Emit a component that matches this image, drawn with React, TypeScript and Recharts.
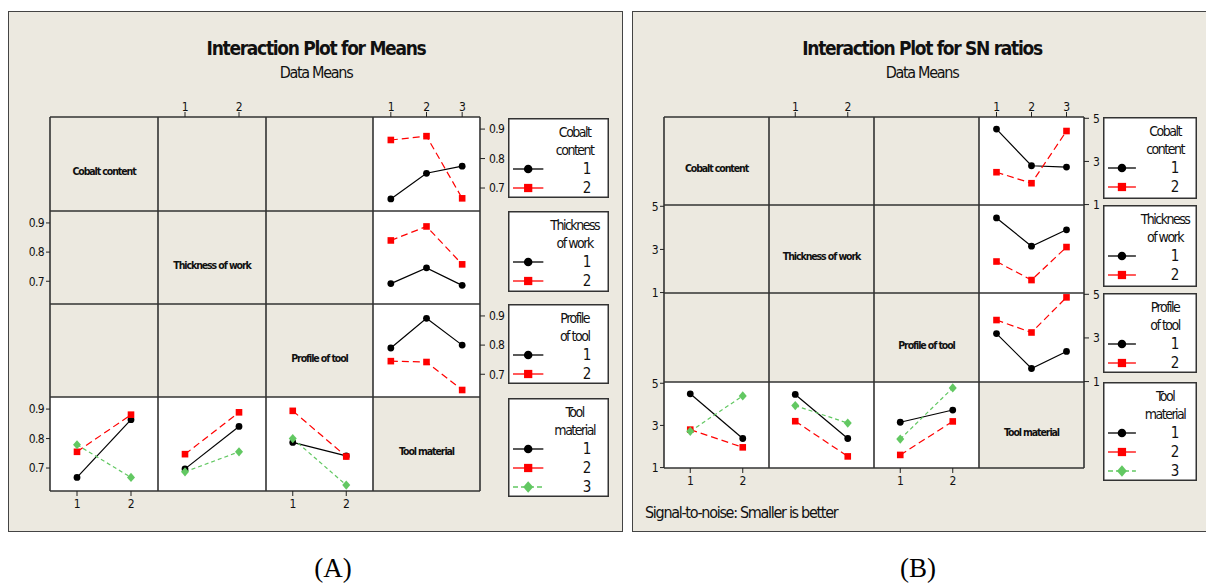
import React from 'react';
import { LineChart, Line, XAxis, YAxis } from 'recharts';

const FONT = '"Liberation Sans Narrow", "DejaVu Sans Condensed", "Liberation Sans", sans-serif';
const BEIGE = '#ece9e0';
const GRID = '#333';
const RED = '#ff0000';
const GREEN = '#62c862';

// factors and levels
const FACTOR_NAMES = ['Cobalt content', 'Thickness of work', 'Profile of tool', 'Tool material'];
const LEGEND_TITLES = [['Cobalt', 'content'], ['Thickness', 'of work'], ['Profile', 'of tool'], ['Tool', 'material']];
const TWO_LEVELS = [1, 2];
const THREE_LEVELS = [1, 2, 3];

// (A) means, right column: x = tool material 1..3, one line per level of the row factor
const meansCobalt1 = [0.663, 0.750, 0.774];
const meansCobalt2 = [0.863, 0.876, 0.665];
const meansThick1 = [0.692, 0.746, 0.686];
const meansThick2 = [0.840, 0.888, 0.758];
const meansProfile1 = [0.790, 0.892, 0.800];
const meansProfile2 = [0.745, 0.742, 0.646];
// (A) means, bottom row: x = column factor 1..2, one line per tool material
const meansTm1ByCobalt = [0.668, 0.864];
const meansTm2ByCobalt = [0.755, 0.881];
const meansTm3ByCobalt = [0.779, 0.668];
const meansTm1ByThick = [0.697, 0.841];
const meansTm2ByThick = [0.747, 0.889];
const meansTm3ByThick = [0.687, 0.755];
const meansTm1ByProfile = [0.787, 0.741];
const meansTm2ByProfile = [0.894, 0.739];
const meansTm3ByProfile = [0.800, 0.642];
const MEANS_TICKS = [0.7, 0.8, 0.9];

// (B) SN ratios
const snCobalt1 = [4.50, 2.80, 2.74];
const snCobalt2 = [2.50, 1.99, 4.41];
const snThick1 = [4.46, 3.15, 3.91];
const snThick2 = [2.44, 1.58, 3.11];
const snProfile1 = [3.20, 1.60, 2.38];
const snProfile2 = [3.82, 3.25, 4.86];
const snTm1ByCobalt = [4.50, 2.38];
const snTm2ByCobalt = [2.80, 1.96];
const snTm3ByCobalt = [2.72, 4.40];
const snTm1ByThick = [4.47, 2.38];
const snTm2ByThick = [3.20, 1.53];
const snTm3ByThick = [3.94, 3.11];
const snTm1ByProfile = [3.15, 3.73];
const snTm2ByProfile = [1.60, 3.19];
const snTm3ByProfile = [2.35, 4.78];
const SN_TICKS = [1, 3, 5];

const STYLES = [
  { color: '#000', dash: undefined },
  { color: RED, dash: '7 4' },
  { color: GREEN, dash: '4 3' },
];

const marker = (kind: number, color: string, cx: number, cy: number, key?: string, s = 1) => {
  if (kind === 0) return <circle key={key} cx={cx} cy={cy} r={3.4 * s} fill={color} />;
  if (kind === 1) return <rect key={key} x={cx - 3.3 * s} y={cy - 3.3 * s} width={6.6 * s} height={6.6 * s} fill={color} />;
  return <path key={key} d={`M${cx},${cy - 4.6 * s}L${cx + 4 * s},${cy}L${cx},${cy + 4.6 * s}L${cx - 4 * s},${cy}Z`} fill={color} />;
};

const PAD = 36;
const AX_W = 30;
const AX_H = 22;

function CellChart({ x0, y0, x1, y1, levels, series, yDomain, yTicks, top, bottom, left, right }: any) {
  const w = x1 - x0;
  const h = y1 - y0;
  const rows = levels.map((lv: number, i: number) => {
    const row: any = { x: lv };
    series.forEach((s: number[], k: number) => { row['s' + k] = s[i]; });
    return row;
  });
  const tick = { fill: '#111', fontSize: 12, letterSpacing: -0.6 };
  return (
    <div style={{ position: 'absolute', left: x0 - PAD, top: y0 - PAD }}>
      <LineChart
        width={w + 2 * PAD}
        height={h + 2 * PAD}
        data={rows}
        margin={{
          top: top ? PAD - AX_H : PAD,
          bottom: bottom ? PAD - AX_H : PAD,
          left: left ? PAD - AX_W : PAD,
          right: right ? PAD - AX_W : PAD,
        }}
      >
        <XAxis
          type="number"
          dataKey="x"
          domain={[0.5, levels.length + 0.5]}
          ticks={levels}
          interval={0}
          orientation={top ? 'top' : 'bottom'}
          hide={!top && !bottom}
          height={AX_H}
          axisLine={false}
          tickLine={{ stroke: '#222' }}
          tickSize={5}
          tickMargin={top ? 1 : 3}
          tick={tick}
        />
        <YAxis
          type="number"
          domain={yDomain}
          allowDataOverflow
          ticks={yTicks}
          interval={0}
          orientation={right ? 'right' : 'left'}
          hide={!left && !right}
          width={AX_W}
          axisLine={false}
          tickLine={{ stroke: '#222' }}
          tickSize={right ? 5 : 4}
          tickMargin={right ? 4 : 2}
          tick={tick}
        />
        {series.map((_: number[], k: number) => {
          const st = STYLES[k];
          return (
            <Line
              key={k}
              dataKey={'s' + k}
              stroke={st.color}
              strokeWidth={1.2}
              strokeDasharray={st.dash}
              isAnimationActive={false}
              dot={(p: any) => marker(k, st.color, p.cx, p.cy, 'd' + k + '-' + p.index)}
              activeDot={false}
            />
          );
        })}
      </LineChart>
    </div>
  );
}

function LegendBox({ x0, x1, y0, y1, title, levels }: any) {
  const w = x1 - x0;
  const h = y1 - y0;
  return (
    <svg style={{ position: 'absolute', left: x0, top: y0 }} width={w} height={h}>
      <rect x={0.75} y={0.75} width={w - 1.5} height={h - 1.5} fill="#fff" stroke={GRID} strokeWidth={1.5} />
      {title.map((t: string, i: number) => (
        <text key={t} x={w * 0.66} y={14 + i * 18} textAnchor="middle" dominantBaseline="central" fontSize={14} letterSpacing={-1.5} fill="#111">{t}</text>
      ))}
      {levels.map((lv: number, i: number) => {
        const y = 51 + i * 19;
        const st = STYLES[i];
        return (
          <g key={lv}>
            <line x1={5} x2={w * 0.35} y1={y} y2={y} stroke={st.color} strokeWidth={1.3} strokeDasharray={i === 2 ? '5 3' : undefined} />
            {marker(i, st.color, 5 + (w * 0.35 - 5) / 2, y, undefined, 1.25)}
            <text x={w - 22} y={y} textAnchor="middle" dominantBaseline="central" fontSize={15} fill="#111">{lv}</text>
          </g>
        );
      })}
    </svg>
  );
}

function Panel({ p }: any) {
  const [fx0, fy0, fx1, fy1] = p.frame;
  const gx = p.gridX;
  const gy = p.gridY;
  const cells: any[] = [];
  const charts: any[] = [];
  for (let r = 0; r < 4; r++) {
    for (let c = 0; c < 4; c++) {
      const isData = (c === 3 && r < 3) || (r === 3 && c < 3);
      const box = { x0: gx[c], y0: gy[r], x1: gx[c + 1], y1: gy[r + 1] };
      cells.push(
        <div key={`bg${r}${c}`} style={{ position: 'absolute', left: box.x0, top: box.y0, width: box.x1 - box.x0, height: box.y1 - box.y0, background: isData ? '#fff' : BEIGE }} />
      );
      if (r === c) {
        cells.push(
          <div key={`lb${r}`} style={{ position: 'absolute', left: (box.x0 + box.x1) / 2, top: (box.y0 + box.y1) / 2 + 7, transform: 'translate(-50%,-50%)', fontSize: 10.5, fontWeight: 700, letterSpacing: -1.1, whiteSpace: 'nowrap', color: '#111' }}>
            {FACTOR_NAMES[r]}
          </div>
        );
      }
      const top = r === 0 && (c === 1 || c === 3);
      const bottom = r === 3 && (c === 0 || c === 2);
      const left = c === 0 && (r === 1 || r === 3);
      const right = c === 3 && (r === 0 || r === 2);
      if (!isData && !top && !bottom && !left && !right) continue;
      const series = isData ? (c === 3 ? p.right[r] : p.bottom[c]) : [];
      const levels = c === 3 ? THREE_LEVELS : TWO_LEVELS;
      charts.push(
        <CellChart key={`ch${r}${c}`} {...box} levels={levels} series={series} yDomain={p.yDomain} yTicks={p.yTicks}
          top={top} bottom={bottom} left={left} right={right} />
      );
    }
  }
  return (
    <>
      <div style={{ position: 'absolute', left: fx0, top: fy0, width: fx1 - fx0, height: fy1 - fy0, background: BEIGE, border: '1.5px solid #444', boxSizing: 'border-box' }} />
      <div style={{ position: 'absolute', left: p.titleX, top: 48, transform: 'translate(-50%,-50%)', fontSize: 19, fontWeight: 700, letterSpacing: -1.3, whiteSpace: 'nowrap', color: '#111' }}>{p.title}</div>
      <div style={{ position: 'absolute', left: p.titleX, top: 72, transform: 'translate(-50%,-50%)', fontSize: 16, letterSpacing: -1.3, whiteSpace: 'nowrap', color: '#111' }}>Data Means</div>
      {cells}
      <svg style={{ position: 'absolute', left: 0, top: 0 }} width={1206} height={584}>
        {gx.map((x: number) => <line key={'v' + x} x1={x} x2={x} y1={gy[0]} y2={gy[4]} stroke={GRID} strokeWidth={1.6} />)}
        {gy.map((y: number) => <line key={'h' + y} x1={gx[0]} x2={gx[4]} y1={y} y2={y} stroke={GRID} strokeWidth={1.6} />)}
      </svg>
      {charts}
      {p.legendY.map((ly: number[], i: number) => (
        <LegendBox key={i} x0={p.legendX[0]} x1={p.legendX[1]} y0={ly[0]} y1={ly[1]} title={LEGEND_TITLES[i]} levels={i === 3 ? THREE_LEVELS : TWO_LEVELS} />
      ))}
      {p.note && (
        <div style={{ position: 'absolute', left: p.noteX, top: 512, transform: 'translateY(-50%)', fontSize: 16, letterSpacing: -1.3, whiteSpace: 'nowrap', color: '#111' }}>{p.note}</div>
      )}
      <div style={{ position: 'absolute', left: p.captionX, top: 568, transform: 'translate(-50%,-50%)', fontFamily: '"Liberation Serif", serif', fontSize: 27, whiteSpace: 'nowrap', color: '#000' }}>{p.caption}</div>
    </>
  );
}

const panelA = {
  frame: [8, 11, 623, 532],
  title: 'Interaction Plot for Means',
  titleX: 316,
  gridX: [50, 158, 266, 373, 480],
  gridY: [117, 211, 304, 397, 491],
  yDomain: [0.622, 0.941],
  yTicks: MEANS_TICKS,
  right: [[meansCobalt1, meansCobalt2], [meansThick1, meansThick2], [meansProfile1, meansProfile2]],
  bottom: [
    [meansTm1ByCobalt, meansTm2ByCobalt, meansTm3ByCobalt],
    [meansTm1ByThick, meansTm2ByThick, meansTm3ByThick],
    [meansTm1ByProfile, meansTm2ByProfile, meansTm3ByProfile],
  ],
  legendX: [508, 609],
  legendY: [[118, 198], [211, 292], [304, 384], [398, 497]],
  caption: '(A)',
  captionX: 333,
};

const panelB = {
  frame: [632, 11, 1214, 532],
  title: 'Interaction Plot for SN ratios',
  titleX: 922,
  gridX: [664, 769, 874, 979, 1084],
  gridY: [117, 205, 293, 382, 468],
  yDomain: [0.98, 5.06],
  yTicks: SN_TICKS,
  right: [[snCobalt1, snCobalt2], [snThick1, snThick2], [snProfile1, snProfile2]],
  bottom: [
    [snTm1ByCobalt, snTm2ByCobalt, snTm3ByCobalt],
    [snTm1ByThick, snTm2ByThick, snTm3ByThick],
    [snTm1ByProfile, snTm2ByProfile, snTm3ByProfile],
  ],
  legendX: [1103, 1197],
  legendY: [[117, 199], [205, 287], [293, 373], [382, 481]],
  note: 'Signal-to-noise: Smaller is better',
  noteX: 645,
  caption: '(B)',
  captionX: 918,
};

export default function App() {
  return (
    <div style={{ position: 'absolute', left: 0, top: 0, width: 1206, height: 584, overflow: 'hidden', background: '#fff', fontFamily: FONT }}>
      <Panel p={panelA} />
      <Panel p={panelB} />
    </div>
  );
}
